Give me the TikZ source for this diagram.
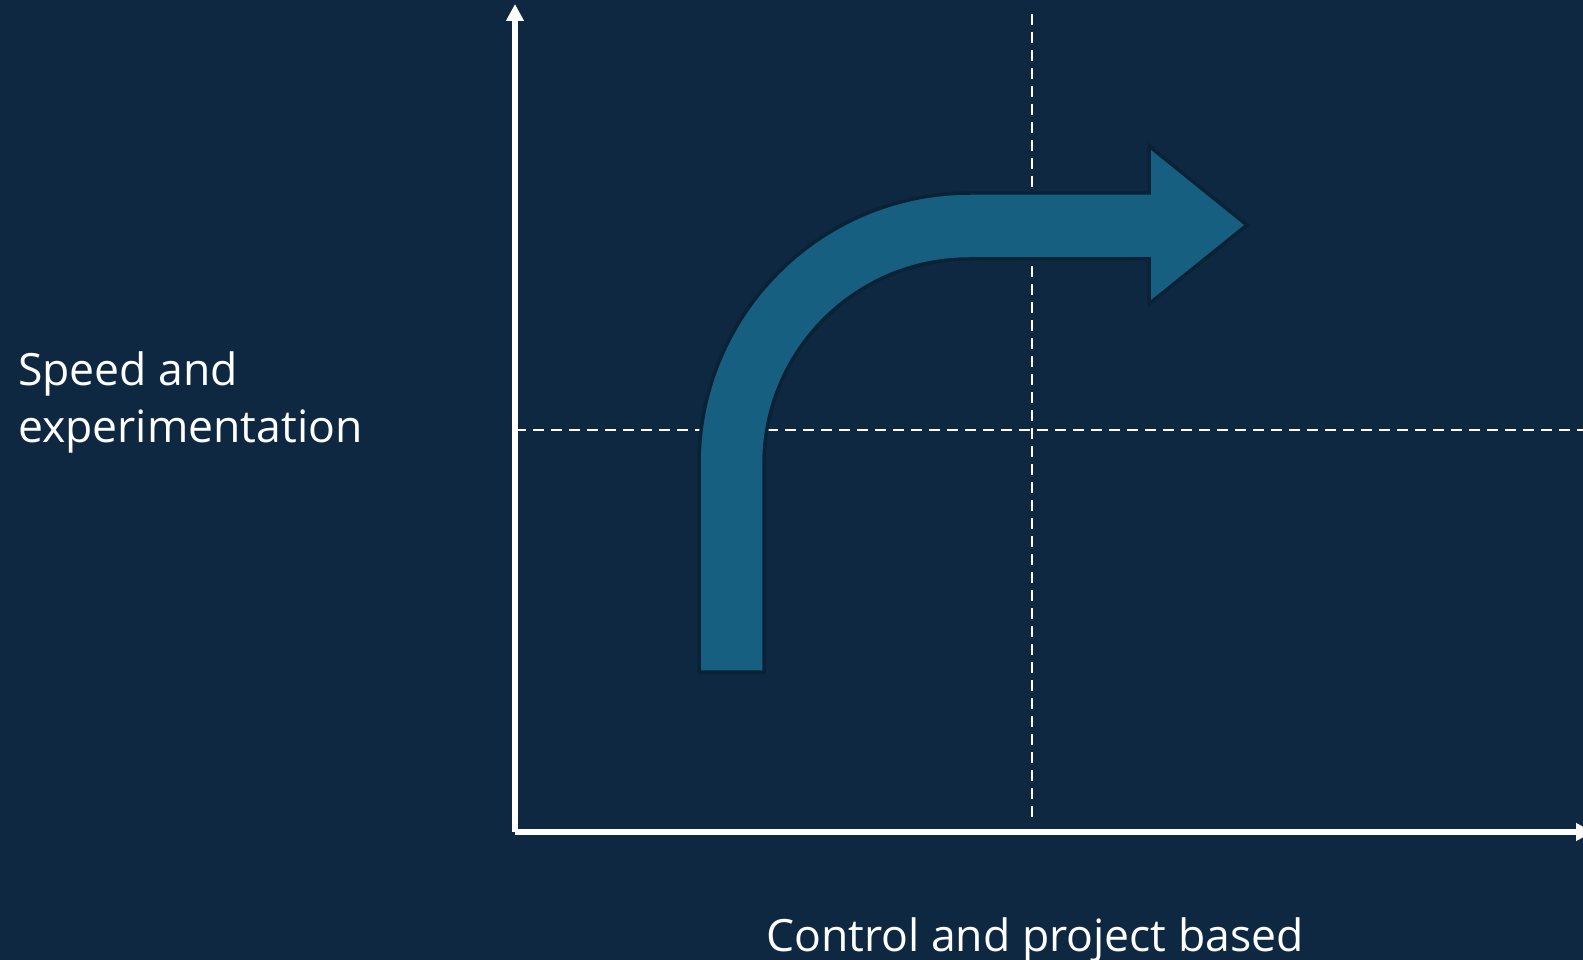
\documentclass[tikz,border=0pt]{standalone}
\usepackage{fontspec}
\setmainfont{Open Sans}
\usetikzlibrary{arrows.meta}
\definecolor{bgc}{HTML}{0E2842}
\definecolor{arrowfill}{HTML}{175F80}
\definecolor{arrowline}{HTML}{0A2236}
\tikzset{
  axisline/.style={draw=white, line width=5.5pt, -{Triangle[length=17pt,width=17pt]}},
  guide/.style={draw=white, line width=2.5pt, dash pattern=on 11pt off 7pt},
  bent/.style={fill=arrowfill, draw=arrowline, line width=3.5pt, line join=miter},
  lbl/.style={text=white, font=\fontsize{44.5}{57}\selectfont, inner sep=0pt, anchor=base west}
}
\begin{document}
\begin{tikzpicture}[x=1pt,y=-1pt]
\clip (0,0) rectangle (1583,960);
\fill[bgc] (0,0) rectangle (1583,960);
% coordinates
\coordinate (origin) at (515,832);
\coordinate (ytop) at (515,4);
\coordinate (xend) at (1593,832);
\coordinate (vtop) at (1032,14);
\coordinate (vbot) at (1032,824);
\coordinate (hleft) at (515,430);
\coordinate (hright) at (1583,430);
% guides
\draw[guide] (vtop) -- (vbot);
\draw[guide] (hleft) -- (hright);
% axes
\draw[axisline] (origin) -- (ytop);
\draw[axisline] (origin) -- (xend);
% bent arrow
\path[bent] (699,672) -- (699,464) arc[start angle=180,end angle=270,radius=271]
  -- (1149,193) -- (1149,146) -- (1247,225) -- (1149,304) -- (1149,259) -- (969,259)
  arc[start angle=270,end angle=180,radius=205] -- (764,672) -- cycle;
% labels
\node[lbl] (ylab1) at (18,385) {Speed and};
\node[lbl] (ylab2) at (18,442) {experimentation};
\node[lbl] (xlab) at (766,951) {Control and project based};
\end{tikzpicture}
\end{document}
